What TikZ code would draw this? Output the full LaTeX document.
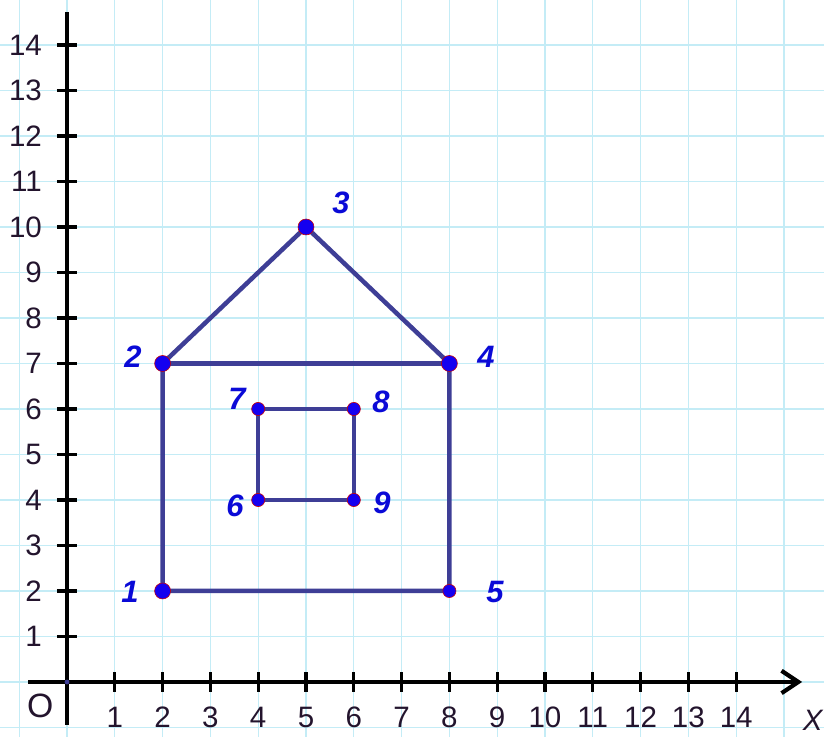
\documentclass[tikz,border=0pt]{standalone}
\usepackage{fontspec}
\setmainfont{Liberation Sans}
\usetikzlibrary{arrows.meta}
\definecolor{gridc}{RGB}{196,236,246}
\definecolor{housec}{RGB}{62,62,150}
\definecolor{dotc}{RGB}{20,0,240}
\definecolor{labc}{RGB}{10,10,215}
\definecolor{axlab}{RGB}{35,20,45}
\tikzset{
  gridline/.style={gridc, line width=0.8pt},
  axisline/.style={line width=3pt, black},
  tickline/.style={line width=2.3pt, black},
  ticklab/.style={text=axlab, font=\fontsize{21}{23}\selectfont, inner sep=0pt},
  houseline/.style={line width=3.2pt, housec, line join=round, line cap=round},
  bigdot/.style={circle, fill=dotc, draw=red!80!black, line width=0.4pt, minimum size=0.4cm, inner sep=0pt},
  smalldot/.style={circle, fill=dotc, draw=red!80!black, line width=0.4pt, minimum size=0.33cm, inner sep=0pt},
  ptlab/.style={text=labc, font=\fontsize{22}{24}\selectfont\bfseries\itshape, inner sep=0pt},
}
\begin{document}
\begin{tikzpicture}[x=1.195cm, y=1.1375cm]
\useasboundingbox (-1.402,-1.209) rectangle (15.837,14.989);
\fill[white] (-1.402,-1.209) rectangle (15.837,14.989);
\clip (-1.402,-1.209) rectangle (15.837,14.989);
% grid
\foreach \i in {-1,...,15} { \draw[gridline] (\i,-1.209) -- (\i,14.989); }
\foreach \j in {-1,...,14} { \draw[gridline] (-1.402,\j) -- (15.837,\j); }
% axes
\coordinate (ybot) at (0,-0.945);
\coordinate (ytop) at (0,14.725);
\coordinate (xleft) at (-0.816,0);
\coordinate (xright) at (15.38,0);
\draw[axisline] (ybot) -- (ytop);
\draw[axisline, -{Straight Barb[length=4.2mm, width=5.6mm, line width=3pt]}] (xleft) -- (xright);
% ticks and labels
\foreach \k in {1,...,14} {
  \draw[tickline] (-0.21,\k) -- (0.21,\k);
  \draw[tickline] (\k,-0.22) -- (\k,0.22);
  \node[ticklab, anchor=east] (yl\k) at (-0.52,\k) {\k};
  \node[ticklab] (xl\k) at (\k,-0.77) {\k};
}
\node[ticklab, font=\fontsize{24}{26}\selectfont] (O) at (-0.56,-0.52) {O};
\node[ticklab, font=\fontsize{21}{23}\selectfont\itshape] (X) at (15.6,-0.84) {X};
\node[circle, fill=housec, inner sep=0pt, minimum size=0.12cm] (orig) at (0,0) {};
% house points
\coordinate (c1) at (2,2);
\coordinate (c2) at (2,7);
\coordinate (c3) at (5,10);
\coordinate (c4) at (8,7);
\coordinate (c5) at (8,2);
\coordinate (c6) at (4,4);
\coordinate (c7) at (4,6);
\coordinate (c8) at (6,6);
\coordinate (c9) at (6,4);
\draw[houseline] (c1) -- (c2) -- (c3) -- (c4) -- (c5) -- cycle;
\draw[houseline] (c2) -- (c4);
\draw[houseline] (c6) -- (c7) -- (c8) -- (c9) -- cycle;
\node[bigdot] (p1) at (c1) {};
\node[bigdot] (p2) at (c2) {};
\node[bigdot] (p3) at (c3) {};
\node[bigdot] (p4) at (c4) {};
\node[smalldot] (p5) at (c5) {};
\node[smalldot] (p6) at (c6) {};
\node[smalldot] (p7) at (c7) {};
\node[smalldot] (p8) at (c8) {};
\node[smalldot] (p9) at (c9) {};
% point labels
\node[ptlab] (l1) at (1.318,1.978) {1};
\node[ptlab] (l2) at (1.381,7.143) {2};
\node[ptlab] (l3) at (5.732,10.527) {3};
\node[ptlab] (l4) at (8.766,7.143) {4};
\node[ptlab] (l5) at (8.954,1.978) {5};
\node[ptlab] (l6) at (3.515,3.868) {6};
\node[ptlab] (l7) at (3.556,6.220) {7};
\node[ptlab] (l8) at (6.569,6.154) {8};
\node[ptlab] (l9) at (6.590,3.934) {9};
\end{tikzpicture}
\end{document}
